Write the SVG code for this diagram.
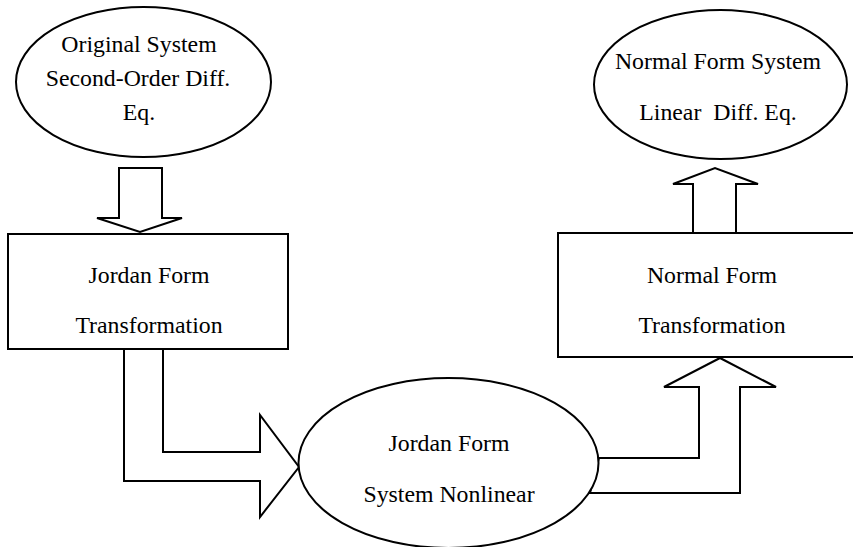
<svg xmlns="http://www.w3.org/2000/svg" width="853" height="547" viewBox="0 0 853 547">
<style>
.shape{fill:#fff;stroke:#000;stroke-width:2}
.conn{fill:#fff;stroke:#000;stroke-width:2;stroke-linejoin:miter}
text{font-family:"Liberation Serif","Times New Roman",serif;font-size:23.8px;fill:#000;text-anchor:middle}
</style>
<rect width="853" height="547" fill="#fff"/>
<g id="connectors">
<polygon class="conn" points="119,168 162,168 162,218 182,218 140,232 97,218 119,218"/>
<polygon class="conn" points="163,349 163,452 260,452 260,415 299,467 260,517 260,481 124,481 124,349"/>
<polygon class="conn" points="599,458 699,458 699,387 664,387 720,358 776,387 740,387 740,493 590,493"/>
<polygon class="conn" points="693,233 693,184 673,184 715,168 758,184 736,184 736,233"/>
</g>
<g id="original-system">
<ellipse class="shape" cx="143.5" cy="82" rx="127.5" ry="75"/>
<text x="139" y="52">Original System</text>
<text x="138" y="86">Second-Order Diff.</text>
<text x="139" y="120">Eq.</text>
</g>
<g id="jordan-transformation">
<rect class="shape" x="8" y="234" width="280" height="115"/>
<text x="149" y="283">Jordan Form</text>
<text x="149" y="333">Transformation</text>
</g>
<g id="jordan-system">
<ellipse class="shape" cx="448.5" cy="463" rx="150" ry="85"/>
<text x="449" y="451">Jordan Form</text>
<text x="449" y="502">System Nonlinear</text>
</g>
<g id="normal-transformation">
<rect class="shape" x="558" y="233" width="300" height="124"/>
<text x="712" y="283">Normal Form</text>
<text x="712" y="333">Transformation</text>
</g>
<g id="normal-system">
<ellipse class="shape" cx="720.5" cy="84.5" rx="126.5" ry="74.5"/>
<text x="718" y="69">Normal Form System</text>
<text x="718" y="120" xml:space="preserve">Linear  Diff. Eq.</text>
</g>
</svg>
